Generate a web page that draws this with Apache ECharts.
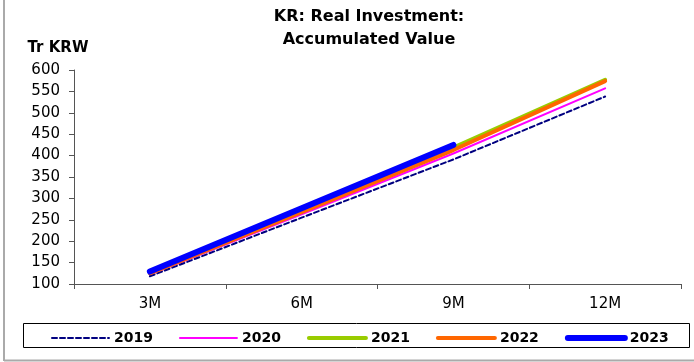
<!DOCTYPE html>
<html><head><meta charset="utf-8">
<script src="https://cdn.jsdelivr.net/npm/echarts@6/dist/echarts.min.js"></script>
<style>html,body{margin:0;padding:0;background:#fff}#c{width:694px;height:362px}</style>
</head><body><div id="c"></div>
<script>
var categories = ['3M', '6M', '9M', '12M'];
var s2019 = [118, 255, 391, 538];
var s2020 = [122, 263, 405, 557];
var s2021 = [126, 270, 419, 577];
var s2022 = [125, 268, 413, 574];
var s2023 = [129, 277, 425];
var yTicks = [100, 150, 200, 250, 300, 350, 400, 450, 500, 550, 600];

var F = 'DejaVu Sans, sans-serif';
var chart = echarts.init(document.getElementById('c'));
var styles = {
  '2019': {color: '#000080', width: 2, type: [5, 3]},
  '2020': {color: '#FF00FF', width: 2, type: 'solid'},
  '2021': {color: '#99CC00', width: 4, type: 'solid'},
  '2022': {color: '#FF6600', width: 4, type: 'solid'},
  '2023': {color: '#0000FF', width: 6, type: 'solid'}
};
function ser(name, data, z) {
  var s = styles[name];
  return {name: name, type: 'line', data: data, symbol: 'none', z: z,
    lineStyle: {color: s.color, width: s.width, type: s.type, cap: 'round'},
    itemStyle: {color: s.color}, emphasis: {disabled: true}};
}
var legendData = ['2019', '2020', '2021', '2022', '2023'].map(function (n) {
  var s = styles[n];
  return {name: n, itemStyle: {opacity: 0},
    lineStyle: {color: s.color, width: s.width, type: s.type, cap: 'round'}};
});
chart.setOption({
  animation: false,
  backgroundColor: '#fff',
  title: {text: 'KR: Real Investment:\nAccumulated Value', left: 364, textAlign: 'center', top: 0,
    textStyle: {fontFamily: F, fontSize: 16, fontWeight: 'bold', color: '#000', lineHeight: 23}},
  grid: {left: 74, right: 13, top: 70, bottom: 78},
  legend: {left: 46, top: 326, itemWidth: 57, itemHeight: 12, itemGap: 26,
    textStyle: {fontFamily: F, fontSize: 14, fontWeight: 'bold', color: '#000'},
    data: legendData},
  xAxis: {type: 'category', data: categories, boundaryGap: true,
    axisLine: {lineStyle: {color: '#555', width: 1}},
    axisTick: {show: true, length: 5, lineStyle: {color: '#555'}},
    axisLabel: {fontFamily: F, fontSize: 15, color: '#000', margin: 13}},
  yAxis: {type: 'value', min: yTicks[0], max: yTicks[yTicks.length - 1], interval: 50,
    name: 'Tr KRW', nameLocation: 'end', nameGap: 14,
    nameTextStyle: {fontFamily: F, fontSize: 15, fontWeight: 'bold', color: '#000', align: 'center', padding: [0, 32, 0, 0]},
    splitLine: {show: false},
    axisLine: {show: true, lineStyle: {color: '#555'}},
    axisTick: {show: true, length: 5, lineStyle: {color: '#555'}},
    axisLabel: {fontFamily: F, fontSize: 15, color: '#000', margin: 14}},
  graphic: [
    {type: 'rect', shape: {x: 23.5, y: 323.5, width: 666, height: 24}, style: {fill: 'none', stroke: '#000', lineWidth: 1}, z: -1},
    {type: 'line', shape: {x1: 4, y1: 0, x2: 4, y2: 361}, style: {stroke: '#aaa', lineWidth: 2}},
    {type: 'line', shape: {x1: 4, y1: 360.5, x2: 694, y2: 360.5}, style: {stroke: '#aaa', lineWidth: 2}}
  ],
  series: [
    ser('2019', s2019, 5),
    ser('2020', s2020, 4),
    ser('2021', s2021, 3),
    ser('2022', s2022, 6),
    ser('2023', s2023, 7)
  ]
});
</script></body></html>
